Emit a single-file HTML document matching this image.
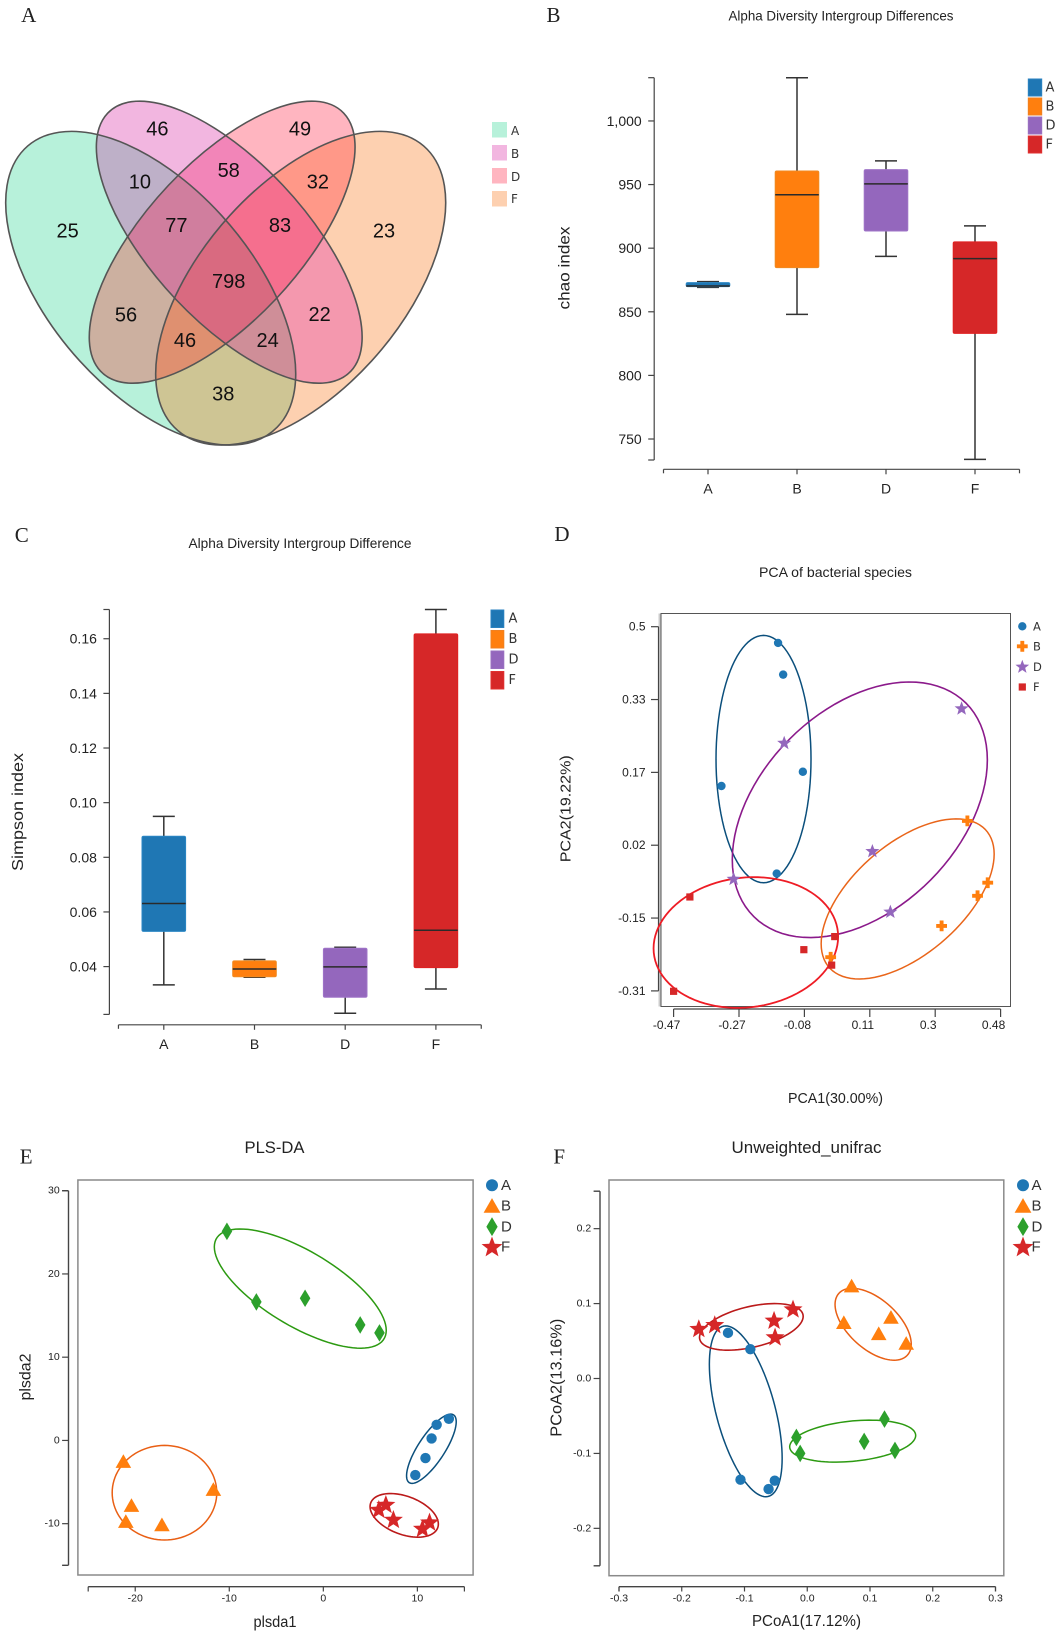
<!DOCTYPE html>
<html lang="en">
<head>
<meta charset="utf-8">
<title>Microbial diversity panels</title>
<style>
html,body{margin:0;padding:0;background:#fff;}
svg{display:block;}
text{font-family:"Liberation Sans",sans-serif;fill:#222;}
.plabel{font-family:"Liberation Serif",serif;font-size:21px;fill:#222;text-anchor:middle;dominant-baseline:central;}
.cnt{font-size:20px;fill:#111;text-anchor:middle;dominant-baseline:central;}
.ttl{text-anchor:middle;dominant-baseline:central;fill:#222;}
.tick{font-family:"DejaVu Sans",sans-serif;font-size:13px;fill:#333;dominant-baseline:central;}
.leg{font-family:"DejaVu Sans",sans-serif;font-size:13px;fill:#333;dominant-baseline:central;}
</style>
</head>
<body>
<svg id="fig" xmlns="http://www.w3.org/2000/svg" width="1061" height="1637" viewBox="0 0 1061 1637">
<rect width="1061" height="1637" fill="#fff"/>
<defs>
<clipPath id="cA"><ellipse cx=".3517" cy=".4772" rx=".36" ry=".195" transform="matrix(505.7 0 0 -536.7 -27.15 544.35) rotate(134 .3517 .4772)"/></clipPath>
<clipPath id="cB"><ellipse cx=".507" cy=".563" rx=".34" ry=".15" transform="matrix(505.7 0 0 -536.7 -27.15 544.35) rotate(135 .507 .563)"/></clipPath>
<clipPath id="cD"><ellipse cx=".493" cy=".563" rx=".34" ry=".15" transform="matrix(505.7 0 0 -536.7 -27.15 544.35) rotate(45 .493 .563)"/></clipPath>
<clipPath id="cF"><ellipse cx=".6483" cy=".4772" rx=".36" ry=".195" transform="matrix(505.7 0 0 -536.7 -27.15 544.35) rotate(46 .6483 .4772)"/></clipPath>
</defs>

<g>
<g clip-path="url(#cA)"><rect width="470" height="470" fill="#b7f1da"/></g>
<g clip-path="url(#cB)"><rect width="470" height="470" fill="#f2b6e0"/></g>
<g clip-path="url(#cD)"><rect width="470" height="470" fill="#ffb5c0"/></g>
<g clip-path="url(#cF)"><rect width="470" height="470" fill="#fdd0b0"/></g>
<g clip-path="url(#cA)"><g clip-path="url(#cB)"><rect width="470" height="470" fill="#beb0c8"/></g></g>
<g clip-path="url(#cA)"><g clip-path="url(#cD)"><rect width="470" height="470" fill="#ccb0a0"/></g></g>
<g clip-path="url(#cA)"><g clip-path="url(#cF)"><rect width="470" height="470" fill="#cec594"/></g></g>
<g clip-path="url(#cB)"><g clip-path="url(#cD)"><rect width="470" height="470" fill="#f285b8"/></g></g>
<g clip-path="url(#cB)"><g clip-path="url(#cF)"><rect width="470" height="470" fill="#f498ae"/></g></g>
<g clip-path="url(#cD)"><g clip-path="url(#cF)"><rect width="470" height="470" fill="#ff9888"/></g></g>
<g clip-path="url(#cA)"><g clip-path="url(#cB)"><g clip-path="url(#cD)"><rect width="470" height="470" fill="#d07e9e"/></g></g></g>
<g clip-path="url(#cA)"><g clip-path="url(#cB)"><g clip-path="url(#cF)"><rect width="470" height="470" fill="#cf8e98"/></g></g></g>
<g clip-path="url(#cA)"><g clip-path="url(#cD)"><g clip-path="url(#cF)"><rect width="470" height="470" fill="#df9070"/></g></g></g>
<g clip-path="url(#cB)"><g clip-path="url(#cD)"><g clip-path="url(#cF)"><rect width="470" height="470" fill="#f56f8e"/></g></g></g>
<g clip-path="url(#cA)"><g clip-path="url(#cB)"><g clip-path="url(#cD)"><g clip-path="url(#cF)"><rect width="470" height="470" fill="#d96a80"/></g></g></g></g>
<g fill="none" stroke="#555" stroke-width="1.6">
<ellipse vector-effect="non-scaling-stroke" cx=".3517" cy=".4772" rx=".36" ry=".195" transform="matrix(505.7 0 0 -536.7 -27.15 544.35) rotate(134 .3517 .4772)"/>
<ellipse vector-effect="non-scaling-stroke" cx=".507" cy=".563" rx=".34" ry=".15" transform="matrix(505.7 0 0 -536.7 -27.15 544.35) rotate(135 .507 .563)"/>
<ellipse vector-effect="non-scaling-stroke" cx=".493" cy=".563" rx=".34" ry=".15" transform="matrix(505.7 0 0 -536.7 -27.15 544.35) rotate(45 .493 .563)"/>
<ellipse vector-effect="non-scaling-stroke" cx=".6483" cy=".4772" rx=".36" ry=".195" transform="matrix(505.7 0 0 -536.7 -27.15 544.35) rotate(46 .6483 .4772)"/>
</g>
<text class="cnt" x="67.6" y="231.7">25</text>
<text class="cnt" x="157.4" y="129.3">46</text>
<text class="cnt" x="300" y="129.3">49</text>
<text class="cnt" x="139.9" y="182.7">10</text>
<text class="cnt" x="228.7" y="171">58</text>
<text class="cnt" x="317.9" y="182.7">32</text>
<text class="cnt" x="384" y="231.7">23</text>
<text class="cnt" x="176.4" y="226">77</text>
<text class="cnt" x="280" y="226">83</text>
<text class="cnt" x="228.7" y="282">798</text>
<text class="cnt" x="126" y="315.3">56</text>
<text class="cnt" x="319.6" y="315">22</text>
<text class="cnt" x="185" y="341">46</text>
<text class="cnt" x="267.6" y="341">24</text>
<text class="cnt" x="223.3" y="394.3">38</text>
<g>
<rect x="492" y="122" width="15" height="15.5" fill="#b7f1da"/>
<rect x="492" y="145" width="15" height="15.5" fill="#f2b6e0"/>
<rect x="492" y="168" width="15" height="15.5" fill="#ffb5c0"/>
<rect x="492" y="191" width="15" height="15.5" fill="#fdd0b0"/>
<text class="leg" style="font-size:12px" x="511" y="131">A</text>
<text class="leg" style="font-size:12px" x="511" y="154">B</text>
<text class="leg" style="font-size:12px" x="511" y="177">D</text>
<text class="leg" style="font-size:12px" x="511" y="199">F</text>
</g>
</g>

<text class="plabel" x="28.7" y="15">A</text>
<text class="plabel" x="553.5" y="15">B</text>
<text class="plabel" x="21.8" y="535">C</text>
<text class="plabel" x="561.9" y="534">D</text>
<text class="plabel" x="26.2" y="1156.7">E</text>
<text class="plabel" x="559.2" y="1156.7">F</text>

<g id="panelB">
<text class="ttl" x="841" y="15.7" font-size="14" textLength="225" lengthAdjust="spacingAndGlyphs">Alpha Diversity Intergroup Differences</text>
<text class="ttl" x="0" y="0" font-size="16" textLength="83" lengthAdjust="spacingAndGlyphs" transform="translate(565.2 268) rotate(-90)">chao index</text>
<rect x="1028.3" y="79" width="13.4" height="17" fill="#1f77b4" stroke="#2a82c0"/>
<rect x="1028.3" y="98" width="13.4" height="17" fill="#ff7f0e" stroke="#f08020"/>
<rect x="1028.3" y="117" width="13.4" height="17" fill="#9467bd" stroke="#9a70c0"/>
<rect x="1028.3" y="136" width="13.4" height="17" fill="#d62728" stroke="#e03030"/>
<text class="leg" x="1045.5" y="88">A</text>
<text class="leg" x="1045.5" y="107">B</text>
<text class="leg" x="1045.5" y="126">D</text>
<text class="leg" x="1045.5" y="145">F</text>
</g>

<g id="panelC">
<text class="ttl" x="300" y="543" font-size="14" textLength="223" lengthAdjust="spacingAndGlyphs">Alpha Diversity Intergroup Difference</text>
<text class="ttl" x="0" y="0" font-size="16" textLength="118" lengthAdjust="spacingAndGlyphs" transform="translate(18.5 812) rotate(-90)">Simpson index</text>
<rect x="491" y="610" width="12.8" height="17.5" fill="#1f77b4" stroke="#2a82c0"/>
<rect x="491" y="630.5" width="12.8" height="17.5" fill="#ff7f0e" stroke="#f08020"/>
<rect x="491" y="651" width="12.8" height="17.5" fill="#9467bd" stroke="#9a70c0"/>
<rect x="491" y="671.5" width="12.8" height="17.5" fill="#d62728" stroke="#e03030"/>
<text class="leg" x="508.5" y="619">A</text>
<text class="leg" x="508.5" y="639.5">B</text>
<text class="leg" x="508.5" y="660">D</text>
<text class="leg" x="508.5" y="680.5">F</text>
</g>

<g id="panelD">
<rect x="658.5" y="613.5" width="2.5" height="393" fill="#ccc"/>
<rect x="661" y="613.5" width="349.5" height="393" fill="#fff" stroke="#555" stroke-width="1"/>
<text class="ttl" x="835.5" y="572" font-size="14" textLength="153" lengthAdjust="spacingAndGlyphs">PCA of bacterial species</text>
<text class="ttl" x="835.5" y="1099" font-size="14.5" textLength="95" lengthAdjust="spacingAndGlyphs">PCA1(30.00%)</text>
<text class="ttl" x="0" y="0" font-size="15" textLength="107" lengthAdjust="spacingAndGlyphs" transform="translate(566.2 808.8) rotate(-90)">PCA2(19.22%)</text>
<text class="leg" style="font-size:11.5px" x="1033" y="626.3">A</text>
<text class="leg" style="font-size:11.5px" x="1033" y="646.3">B</text>
<text class="leg" style="font-size:11.5px" x="1033" y="667">D</text>
<text class="leg" style="font-size:11.5px" x="1033" y="687">F</text>
</g>

<g id="panelE">
<rect x="77.9" y="1180" width="395.2" height="395" fill="#fff" stroke="#8a8a8a" stroke-width="1.5"/>
<text class="ttl" x="274.5" y="1147.3" font-size="17" textLength="60" lengthAdjust="spacingAndGlyphs">PLS-DA</text>
<text class="ttl" x="275" y="1622.7" font-size="15.5" textLength="43" lengthAdjust="spacingAndGlyphs">plsda1</text>
<text class="ttl" x="0" y="0" font-size="15.5" textLength="47" lengthAdjust="spacingAndGlyphs" transform="translate(26.2 1377) rotate(-90)">plsda2</text>
<text class="leg" style="font-family:'Liberation Sans',sans-serif;font-size:15px" x="501" y="1185.5">A</text>
<text class="leg" style="font-family:'Liberation Sans',sans-serif;font-size:15px" x="501" y="1206">B</text>
<text class="leg" style="font-family:'Liberation Sans',sans-serif;font-size:15px" x="501" y="1227">D</text>
<text class="leg" style="font-family:'Liberation Sans',sans-serif;font-size:15px" x="501" y="1247">F</text>
</g>

<g id="panelF">
<rect x="609" y="1180" width="394.8" height="395.7" fill="#fff" stroke="#8a8a8a" stroke-width="1.5"/>
<text class="ttl" x="806.5" y="1147.3" font-size="17" textLength="150" lengthAdjust="spacingAndGlyphs">Unweighted_unifrac</text>
<text class="ttl" x="806.5" y="1621.7" font-size="15.5" textLength="109" lengthAdjust="spacingAndGlyphs">PCoA1(17.12%)</text>
<text class="ttl" x="0" y="0" font-size="15.5" textLength="118" lengthAdjust="spacingAndGlyphs" transform="translate(556.8 1377.7) rotate(-90)">PCoA2(13.16%)</text>
<text class="leg" style="font-family:'Liberation Sans',sans-serif;font-size:15px" x="1031.5" y="1185.5">A</text>
<text class="leg" style="font-family:'Liberation Sans',sans-serif;font-size:15px" x="1031.5" y="1206">B</text>
<text class="leg" style="font-family:'Liberation Sans',sans-serif;font-size:15px" x="1031.5" y="1227">D</text>
<text class="leg" style="font-family:'Liberation Sans',sans-serif;font-size:15px" x="1031.5" y="1247">F</text>
</g>
</svg>

<script>
// ---------- Chart data ----------
const groups = ['A', 'B', 'D', 'F'];

const chaoLow = [869.2, 848, 893.6, 734];
const chaoQ1 = [869.8, 884.7, 913.5, 833];
const chaoMedian = [870.3, 942, 950.5, 891.8];
const chaoQ3 = [872.9, 960.7, 961.7, 905];
const chaoHigh = [873.7, 1034, 968.6, 917.5];
const chaoDomain = [733.5, 1034];
const chaoTicks = [750, 800, 850, 900, 950, 1000];
const chaoTickLabels = ['750', '800', '850', '900', '950', '1,000'];

const simpsonLow = [0.0333, 0.0361, 0.0229, 0.0318];
const simpsonQ1 = [0.0529, 0.0363, 0.0288, 0.0396];
const simpsonMedian = [0.0631, 0.0391, 0.0399, 0.0533];
const simpsonQ3 = [0.0877, 0.0421, 0.0467, 0.1618];
const simpsonHigh = [0.095, 0.0426, 0.0471, 0.1707];
const simpsonDomain = [0.0225, 0.1707];
const simpsonTicks = [0.04, 0.06, 0.08, 0.10, 0.12, 0.14, 0.16];
const simpsonTickLabels = ['0.04', '0.06', '0.08', '0.10', '0.12', '0.14', '0.16'];

const pcaXTicks = [-0.47, -0.28, -0.09, 0.10, 0.29, 0.48];
const pcaXTickLabels = ['-0.47', '-0.27', '-0.08', '0.11', '0.3', '0.48'];
const pcaYTicks = [0.5, 0.338, 0.176, 0.014, -0.148, -0.31];
const pcaYTickLabels = ['0.5', '0.33', '0.17', '0.02', '-0.15', '-0.31'];
const pcaAX = [-0.1665, -0.1517, -0.0945, -0.331, -0.1704];
const pcaAY = [0.4639, 0.3934, 0.1774, 0.1457, -0.0491];
const pcaBX = [0.3835, 0.4426, 0.413, 0.3086, -0.0137];
const pcaBY = [0.0681, -0.0694, -0.0984, -0.1654, -0.2351];
const pcaDX = [0.3667, -0.1487, 0.1075, 0.1597, -0.2956];
const pcaDY = [0.3176, 0.2409, 0.0003, -0.1346, -0.0614];
const pcaFX = [-0.4227, -0.47, -0.0916, -0.0019, -0.0108];
const pcaFY = [-0.1011, -0.3109, -0.2183, -0.1892, -0.2527];
// ellipses: centre x, centre y, half width, half height, correlation
const pcaEllipseA = [-0.2088, 0.2056, 0.138, 0.275, 0];
const pcaEllipseB = [0.21, -0.1055, 0.2513, 0.178, 0.56];
const pcaEllipseD = [0.071, 0.0928, 0.3705, 0.2842, 0.39];
const pcaEllipseF = [-0.2601, -0.2024, 0.2681, 0.1454, 0.09];

const plsXTicks = [-20, -10, 0, 10];
const plsXDomain = [-25, 15];
const plsYTicks = [-10, 0, 10, 20, 30];
const plsYDomain = [-15, 30];
const plsAX = [13.35, 12.05, 11.51, 10.86, 9.78];
const plsAY = [2.6, 1.88, 0.24, -2.12, -4.16];
const plsBX = [-21.26, -20.4, -21.0, -17.16, -11.69];
const plsBY = [-2.6, -7.88, -9.8, -10.2, -5.96];
const plsDX = [-10.25, -7.12, -1.94, 3.92, 5.97];
const plsDY = [25.12, 16.64, 17.08, 13.88, 12.92];
const plsFX = [5.9, 6.65, 7.45, 10.54, 11.29];
const plsFY = [-8.36, -7.76, -9.56, -10.64, -9.88];
const plsEllipseA = [11.49, -1.0, 2.64, 4.16, 0.78];
const plsEllipseB = [-16.89, -6.28, 5.56, 5.68, 0];
const plsEllipseD = [-2.45, 18.24, 9.14, 7.16, -0.7];
const plsEllipseF = [8.6, -9.0, 3.63, 2.62, -0.4];

const pcoaXTicks = [-0.3, -0.2, -0.1, 0, 0.1, 0.2, 0.3];
const pcoaXTickLabels = ['-0.3', '-0.2', '-0.1', '0.0', '0.1', '0.2', '0.3'];
const pcoaYTicks = [-0.2, -0.1, 0, 0.1, 0.2];
const pcoaYTickLabels = ['-0.2', '-0.1', '0.0', '0.1', '0.2'];
const pcoaYDomain = [-0.25, 0.25];
const pcoaAX = [-0.1263, -0.0907, -0.1064, -0.0616, -0.0518];
const pcoaAY = [0.0609, 0.0391, -0.1351, -0.1476, -0.1364];
const pcoaBX = [0.0707, 0.0583, 0.1139, 0.1334, 0.1577];
const pcoaBY = [0.1227, 0.0738, 0.0591, 0.0809, 0.0462];
const pcoaDX = [-0.0173, -0.0113, 0.0907, 0.1231, 0.1398];
const pcoaDY = [-0.0787, -0.1, -0.084, -0.0542, -0.096];
const pcoaFX = [-0.1728, -0.1474, -0.0529, -0.0513, -0.0227];
const pcoaFY = [0.0658, 0.0711, 0.0769, 0.0547, 0.092];
const pcoaEllipseA = [-0.098, -0.0438, 0.058, 0.114, -0.55];
const pcoaEllipseB = [0.105, 0.0724, 0.0607, 0.048, -0.55];
const pcoaEllipseD = [0.0724, -0.0836, 0.1004, 0.028, 0.27];
const pcoaEllipseF = [-0.0891, 0.0689, 0.0826, 0.0311, 0.45];

// ---------- Helpers ----------
const NS = 'http://www.w3.org/2000/svg';
const groupFill = { A: '#1f77b4', B: '#ff7f0e', D: '#9467bd', F: '#d62728' };
const groupEdge = { A: '#2a86c4', B: '#f08a20', D: '#9f74c8', F: '#e02020' };
const green = '#2ca02c';

function make(tag, attrs, parent) {
  const n = document.createElementNS(NS, tag);
  for (const k in attrs) n.setAttribute(k, attrs[k]);
  parent.appendChild(n);
  return n;
}
function linear(d0, d1, r0, r1) {
  return v => r0 + (v - d0) * (r1 - r0) / (d1 - d0);
}
function axisLine(parent, x1, y1, x2, y2, color, width, name) {
  const l = make('line', { x1, y1, x2, y2, stroke: color, 'stroke-width': width }, parent);
  
  
  return l;
}
function tickLabel(parent, x, y, txt, anchor, size, color, family, name) {
  const t = make('text', { x, y, 'text-anchor': anchor, 'font-size': size, fill: color, 'font-family': family, 'dominant-baseline': 'central' }, parent);
  t.textContent = txt;
  
  
  return t;
}
function marker(parent, shape, cx, cy, size, fill, name) {
  let n;
  if (shape === 'circle') {
    n = make('circle', { cx, cy, r: size, fill }, parent);
  } else if (shape === 'square') {
    n = make('rect', { x: cx - size, y: cy - size, width: 2 * size, height: 2 * size, fill }, parent);
  } else if (shape === 'plus') {
    const a = size, b = size * 0.36;
    n = make('path', { d: `M${cx - b} ${cy - a}H${cx + b}V${cy - b}H${cx + a}V${cy + b}H${cx + b}V${cy + a}H${cx - b}V${cy + b}H${cx - a}V${cy - b}H${cx - b}Z`, fill }, parent);
  } else if (shape === 'triangle') {
    n = make('path', { d: `M${cx} ${cy - size * 1.0}L${cx + size} ${cy + size * 0.75}L${cx - size} ${cy + size * 0.75}Z`, fill }, parent);
  } else if (shape === 'diamond') {
    n = make('path', { d: `M${cx} ${cy - size}L${cx + size * 0.6} ${cy}L${cx} ${cy + size}L${cx - size * 0.6} ${cy}Z`, fill }, parent);
  } else {
    let d = '';
    for (let i = 0; i < 10; i++) {
      const r = i % 2 ? size * 0.42 : size;
      const a = -Math.PI / 2 + i * Math.PI / 5;
      d += (i ? 'L' : 'M') + (cx + r * Math.cos(a)).toFixed(2) + ' ' + (cy + r * Math.sin(a)).toFixed(2);
    }
    n = make('path', { d: d + 'Z', fill }, parent);
  }
  
  
  return n;
}
function drawEllipse(parent, spec, xs, ys, color, width, name) {
  const [cx, cy, hw, hh, rho] = spec;
  const s = Math.sqrt(1 - rho * rho);
  let d = '';
  for (let i = 0; i <= 96; i++) {
    const t = i / 96 * 2 * Math.PI;
    const X = cx + hw * Math.cos(t);
    const Y = cy + hh * (rho * Math.cos(t) + s * Math.sin(t));
    d += (i ? 'L' : 'M') + xs(X).toFixed(2) + ' ' + ys(Y).toFixed(2);
  }
  const p = make('path', { d: d + 'Z', fill: 'none', stroke: color, 'stroke-width': width }, parent);
  
  
  return p;
}
function drawPoints(parent, xsData, ysData, xs, ys, shape, size, fill, prefix) {
  xsData.forEach((v, i) => {
    marker(parent, shape, xs(v), ys(ysData[i]), size, fill, prefix + '-point-' + (i + 1));
  });
}

// ---------- Box plots ----------
function boxPlot(parent, prefix, o) {
  const ys = linear(o.domain[0], o.domain[1], o.yBottom, o.yTop);
  const xs = i => o.xFirst + i * o.step;
  const ax = '#444';
  const tf = '"DejaVu Sans",sans-serif';
  axisLine(parent, o.axisX, ys(o.domain[0]), o.axisX, ys(o.domain[1]), ax, 1.2, prefix + '-y-axis');
  axisLine(parent, o.axisX - 6, ys(o.domain[0]), o.axisX, ys(o.domain[0]), ax, 1.2, prefix + '-y-axis-end-low');
  axisLine(parent, o.axisX - 6, ys(o.domain[1]), o.axisX, ys(o.domain[1]), ax, 1.2, prefix + '-y-axis-end-high');
  o.ticks.forEach((v, i) => {
    axisLine(parent, o.axisX - 6, ys(v), o.axisX, ys(v), ax, 1.2, prefix + '-y-tick-' + o.tickLabels[i]);
    tickLabel(parent, o.axisX - 12.5, ys(v), o.tickLabels[i], 'end', 14, '#333', tf, prefix + '-y-tick-label-' + o.tickLabels[i]);
  });
  const xL = xs(0) - o.step / 2, xR = xs(3) + o.step / 2;
  axisLine(parent, xL, o.axisY, xR, o.axisY, ax, 1.2, prefix + '-x-axis');
  axisLine(parent, xL, o.axisY, xL, o.axisY + 4, ax, 1.2, prefix + '-x-axis-end-left');
  axisLine(parent, xR, o.axisY, xR, o.axisY + 4, ax, 1.2, prefix + '-x-axis-end-right');
  groups.forEach((g, i) => {
    const x = xs(i);
    axisLine(parent, x, o.axisY, x, o.axisY + 5, ax, 1.2, prefix + '-x-tick-' + g);
    tickLabel(parent, x, o.axisY + 19, g, 'middle', 14, '#333', tf, prefix + '-x-tick-label-' + g);
    const wc = '#333';
    axisLine(parent, x, ys(o.high[i]), x, ys(o.low[i]), wc, 1.5, prefix + '-whisker-' + g);
    axisLine(parent, x - 11, ys(o.high[i]), x + 11, ys(o.high[i]), wc, 1.5, prefix + '-cap-high-' + g);
    axisLine(parent, x - 11, ys(o.low[i]), x + 11, ys(o.low[i]), wc, 1.5, prefix + '-cap-low-' + g);
    const b = make('rect', { x: x - 21.8, y: ys(o.q3[i]), width: 43.6, height: Math.max(ys(o.q1[i]) - ys(o.q3[i]), 1), rx: 1.5, fill: groupFill[g], stroke: groupEdge[g], 'stroke-width': 1 }, parent);
    
    
    axisLine(parent, x - 21.8, ys(o.med[i]), x + 21.8, ys(o.med[i]), '#2a2a2a', 1.5, prefix + '-median-' + g);
  });
}
boxPlot(document.getElementById('panelB'), 'chao', {
  domain: chaoDomain, yBottom: 460, yTop: 77.7, axisX: 654.2, axisY: 469.3, xFirst: 708, step: 89,
  ticks: chaoTicks, tickLabels: chaoTickLabels, low: chaoLow, q1: chaoQ1, med: chaoMedian, q3: chaoQ3, high: chaoHigh
});
boxPlot(document.getElementById('panelC'), 'simpson', {
  domain: simpsonDomain, yBottom: 1014.4, yTop: 609.5, axisX: 109.4, axisY: 1024.8, xFirst: 163.8, step: 90.7,
  ticks: simpsonTicks, tickLabels: simpsonTickLabels, low: simpsonLow, q1: simpsonQ1, med: simpsonMedian, q3: simpsonQ3, high: simpsonHigh
});

// ---------- PCA ----------
(function () {
  const p = document.getElementById('panelD');
  const xs = linear(-0.47, 0.48, 673.6, 1000.6);
  const ys = linear(0.5, -0.31, 626.7, 990.9);
  const F = '"Liberation Sans",sans-serif';
  axisLine(p, 658.5, ys(0.5), 658.5, ys(-0.31), '#444', 1.2, 'pca-y-axis');
  axisLine(p, xs(-0.47), 1009, xs(0.48), 1009, '#444', 1.2, 'pca-x-axis');
  pcaYTicks.forEach((v, i) => {
    axisLine(p, 651, ys(v), 658.5, ys(v), '#444', 1.2, 'pca-y-tick-' + pcaYTickLabels[i]);
    tickLabel(p, 645.5, ys(v), pcaYTickLabels[i], 'end', 12, '#333', F, 'pca-y-tick-label-' + pcaYTickLabels[i]);
  });
  pcaXTicks.forEach((v, i) => {
    axisLine(p, xs(v), 1009, xs(v), 1017, '#444', 1.2, 'pca-x-tick-' + pcaXTickLabels[i]);
    tickLabel(p, xs(v) - 7, 1025, pcaXTickLabels[i], 'middle', 12, '#333', F, 'pca-x-tick-label-' + pcaXTickLabels[i]);
  });
  drawEllipse(p, pcaEllipseA, xs, ys, '#0b4f7c', 1.5, 'pca-ellipse-a');
  drawEllipse(p, pcaEllipseD, xs, ys, '#8b1a8b', 1.6, 'pca-ellipse-d');
  drawEllipse(p, pcaEllipseB, xs, ys, '#e9651a', 1.5, 'pca-ellipse-b');
  drawEllipse(p, pcaEllipseF, xs, ys, '#ee1c25', 1.8, 'pca-ellipse-f');
  drawPoints(p, pcaAX, pcaAY, xs, ys, 'circle', 4.2, groupFill.A, 'pca-a');
  drawPoints(p, pcaBX, pcaBY, xs, ys, 'plus', 5.4, groupFill.B, 'pca-b');
  drawPoints(p, pcaDX, pcaDY, xs, ys, 'star', 7.4, groupFill.D, 'pca-d');
  drawPoints(p, pcaFX, pcaFY, xs, ys, 'square', 3.6, groupFill.F, 'pca-f');
  marker(p, 'circle', 1022.3, 626.3, 4.2, groupFill.A, 'pca-legend-marker-a');
  marker(p, 'plus', 1022.3, 646.3, 5.4, groupFill.B, 'pca-legend-marker-b');
  marker(p, 'star', 1022.3, 667, 7.2, groupFill.D, 'pca-legend-marker-d');
  marker(p, 'square', 1022.3, 687, 3.6, groupFill.F, 'pca-legend-marker-f');
})();

// ---------- Scores scatter panels ----------
function scoresAxes(p, prefix, o) {
  const ax = '#444';
  axisLine(p, o.axisX, o.ys(o.yDomain[0]), o.axisX, o.ys(o.yDomain[1]), ax, 1.4, prefix + '-y-axis');
  axisLine(p, o.axisX - 6.4, o.ys(o.yDomain[0]), o.axisX, o.ys(o.yDomain[0]), ax, 1.4, prefix + '-y-axis-end-low');
  axisLine(p, o.axisX - 6.4, o.ys(o.yDomain[1]), o.axisX, o.ys(o.yDomain[1]), ax, 1.4, prefix + '-y-axis-end-high');
  o.yTicks.forEach((v, i) => {
    axisLine(p, o.axisX - 6.4, o.ys(v), o.axisX, o.ys(v), ax, 1.2, prefix + '-y-tick-' + o.yLabels[i]);
    tickLabel(p, o.axisX - 8.8, o.ys(v), o.yLabels[i], 'end', 10.5, '#444', '"Liberation Sans",sans-serif', prefix + '-y-tick-label-' + o.yLabels[i]);
  });
  axisLine(p, o.xs(o.xDomain[0]), 1586.7, o.xs(o.xDomain[1]), 1586.7, ax, 1.4, prefix + '-x-axis');
  axisLine(p, o.xs(o.xDomain[0]), 1586.7, o.xs(o.xDomain[0]), 1591.5, ax, 1.2, prefix + '-x-axis-end-left');
  axisLine(p, o.xs(o.xDomain[1]), 1586.7, o.xs(o.xDomain[1]), 1591.5, ax, 1.2, prefix + '-x-axis-end-right');
  o.xTicks.forEach((v, i) => {
    axisLine(p, o.xs(v), 1586.7, o.xs(v), 1591.5, ax, 1.2, prefix + '-x-tick-' + o.xLabels[i]);
    tickLabel(p, o.xs(v), 1598.7, o.xLabels[i], 'middle', 10.5, '#444', '"Liberation Sans",sans-serif', prefix + '-x-tick-label-' + o.xLabels[i]);
  });
}
function scoresLegend(p, prefix, x) {
  marker(p, 'circle', x, 1185.3, 6, groupFill.A, prefix + '-legend-marker-a');
  marker(p, 'triangle', x, 1206.5, 8.4, groupFill.B, prefix + '-legend-marker-b');
  marker(p, 'diamond', x, 1226.7, 9.4, green, prefix + '-legend-marker-d');
  marker(p, 'star', x, 1247.5, 11, groupFill.F, prefix + '-legend-marker-f');
}

(function () {
  const p = document.getElementById('panelE');
  const xs = linear(-25, 15, 88.2, 464.4);
  const ys = linear(30, -15, 1190.7, 1565.3);
  scoresAxes(p, 'plsda', {
    xs, ys, axisX: 68.5, xDomain: plsXDomain, yDomain: plsYDomain,
    yTicks: plsYTicks, yLabels: plsYTicks.map(String), xTicks: plsXTicks, xLabels: plsXTicks.map(String)
  });
  drawEllipse(p, plsEllipseD, xs, ys, '#2c9a11', 1.5, 'plsda-ellipse-d');
  drawEllipse(p, plsEllipseB, xs, ys, '#e95f14', 1.5, 'plsda-ellipse-b');
  drawEllipse(p, plsEllipseA, xs, ys, '#0b4f7c', 1.5, 'plsda-ellipse-a');
  drawEllipse(p, plsEllipseF, xs, ys, '#bb1a1a', 1.6, 'plsda-ellipse-f');
  drawPoints(p, plsAX, plsAY, xs, ys, 'circle', 5.2, groupFill.A, 'plsda-a');
  drawPoints(p, plsBX, plsBY, xs, ys, 'triangle', 7.8, groupFill.B, 'plsda-b');
  drawPoints(p, plsDX, plsDY, xs, ys, 'diamond', 8.8, green, 'plsda-d');
  drawPoints(p, plsFX, plsFY, xs, ys, 'star', 10, groupFill.F, 'plsda-f');
  scoresLegend(p, 'plsda', 492);
})();

(function () {
  const p = document.getElementById('panelF');
  const xs = linear(-0.3, 0.3, 619, 995.5);
  const ys = linear(0.25, -0.25, 1191.2, 1565.8);
  scoresAxes(p, 'pcoa', {
    xs, ys, axisX: 600, xDomain: [-0.3, 0.3], yDomain: pcoaYDomain,
    yTicks: pcoaYTicks, yLabels: pcoaYTickLabels, xTicks: pcoaXTicks, xLabels: pcoaXTickLabels
  });
  drawEllipse(p, pcoaEllipseA, xs, ys, '#0b4f7c', 1.5, 'pcoa-ellipse-a');
  drawEllipse(p, pcoaEllipseB, xs, ys, '#e95f14', 1.5, 'pcoa-ellipse-b');
  drawEllipse(p, pcoaEllipseD, xs, ys, '#2c9a11', 1.5, 'pcoa-ellipse-d');
  drawEllipse(p, pcoaEllipseF, xs, ys, '#bb1a1a', 1.6, 'pcoa-ellipse-f');
  drawPoints(p, pcoaAX, pcoaAY, xs, ys, 'circle', 5.2, groupFill.A, 'pcoa-a');
  drawPoints(p, pcoaBX, pcoaBY, xs, ys, 'triangle', 7.8, groupFill.B, 'pcoa-b');
  drawPoints(p, pcoaDX, pcoaDY, xs, ys, 'diamond', 8.8, green, 'pcoa-d');
  drawPoints(p, pcoaFX, pcoaFY, xs, ys, 'star', 10, groupFill.F, 'pcoa-f');
  scoresLegend(p, 'pcoa', 1023);
})();
</script>
</body>
</html>
